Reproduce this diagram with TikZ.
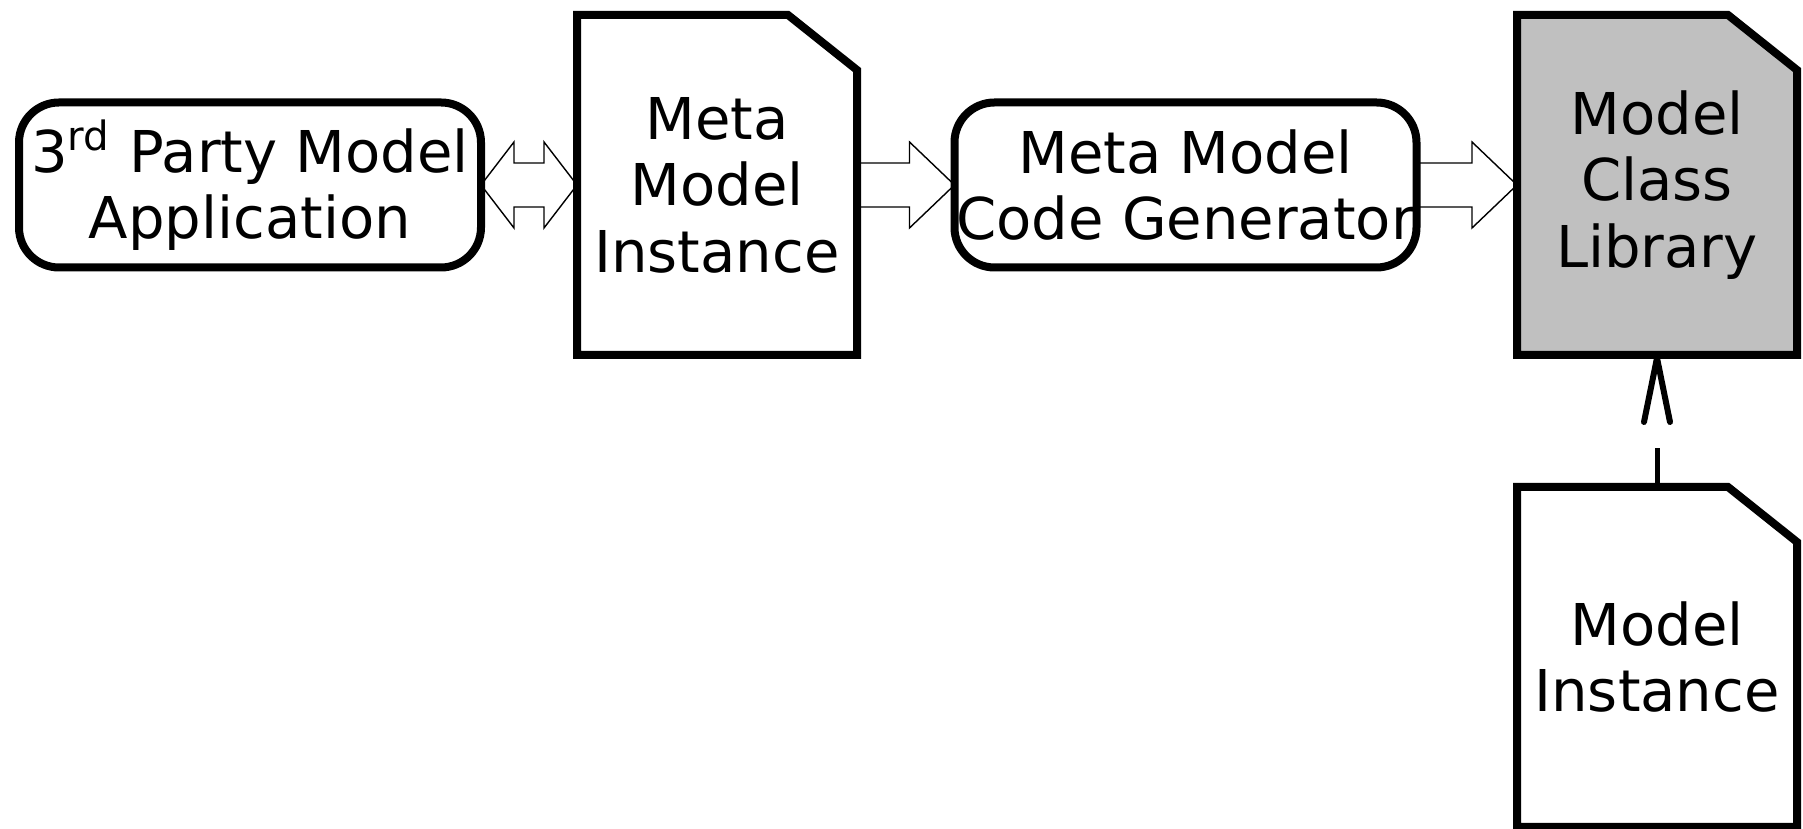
\documentclass[tikz,border=0pt]{standalone}
\usepackage{fontspec}
\setmainfont{DejaVu Sans}
\usetikzlibrary{calc, arrows.meta, backgrounds}
\definecolor{libgray}{RGB}{192,192,192}

\begin{document}
\begin{tikzpicture}[
        every node/.style={font=\fontsize{16.4pt}{18.9pt}\selectfont, align=center},
        process/.style={draw, line width=0.08cm, rounded corners=0.4cm, minimum width=4.62cm, minimum height=1.65cm, inner sep=0pt, outer sep=0pt},
        document/.style={minimum width=2.80cm, minimum height=3.40cm, inner sep=0pt, outer sep=0pt},
        docline/.style={line width=0.08cm},
        fatarrow/.style={line width=0.4pt, to path={
            ($(\tikztostart)+(0,0.22)$) -- ($(\tikztotarget)+(-0.45,0.22)$) -- ++(0,0.21) -- (\tikztotarget)
            -- ++(-0.45,-0.43) -- ++(0,0.21) -- ($(\tikztostart)+(0,-0.22)$) -- cycle}},
        fatdoublearrow/.style={line width=0.4pt, to path={
            (\tikztostart) -- ++(0.33,0.43) -- ++(0,-0.21) -- ($(\tikztotarget)+(-0.33,0.22)$) -- ++(0,0.21) -- (\tikztotarget)
            -- ++(-0.33,-0.43) -- ++(0,0.21) -- ($(\tikztostart)+(0.33,-0.22)$) -- ++(0,-0.21) -- cycle}},
        uses/.style={line width=0.05cm, dash pattern=on 0.39cm off 2cm,
            -{Straight Barb[length=0.64cm, width=0.26cm, line width=0.06cm, round]}}
    ]
            \useasboundingbox (0,0) rectangle (18.03,8.29);
            \node [process] (thirdparty) at (2.50,6.44) {3\textsuperscript{rd} Party Model\\Application};
            \node [document] (metainst) at (7.17,6.44) {Meta\\Model\\Instance};
            \node [process] (generator) at (11.855,6.44) {Meta Model\\Code Generator};
            \node [document] (library) at (16.57,6.44) {Model\\Class\\Library};
            \node [document] (modelinst) at (16.57,1.72) {Model\\Instance};
            \begin{pgfonlayer}{background}
                \foreach \Doc/\Fill in {metainst/white, library/libgray, modelinst/white}{
                    \draw [docline, fill=\Fill] (\Doc.south west) -- (\Doc.north west) -- ([xshift=-0.69cm]\Doc.north east)
                        -- ([yshift=-0.55cm]\Doc.north east) -- (\Doc.south east) -- cycle;
                }
            \end{pgfonlayer}
            \draw [fatdoublearrow] (thirdparty.east) to (metainst.west);
            \draw [fatarrow] (metainst.east) to (generator.west);
            \draw [fatarrow] (generator.east) to (library.west);
            \draw [uses] (modelinst.north) -- (library.south);
        \end{tikzpicture}
\end{document}
